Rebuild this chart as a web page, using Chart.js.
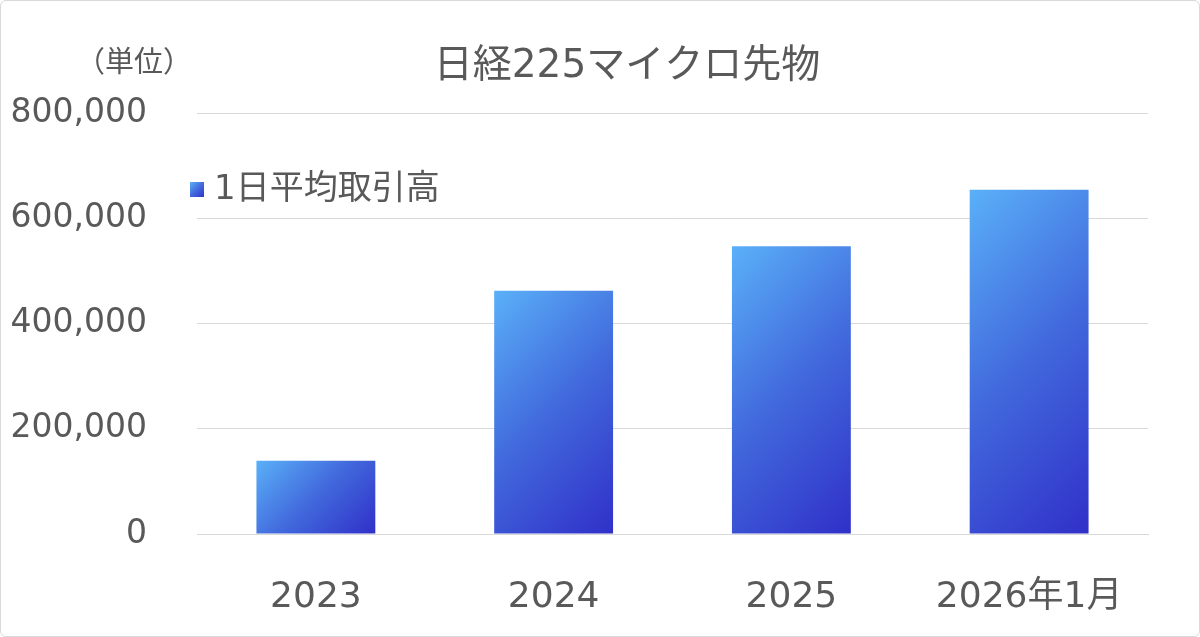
<!DOCTYPE html>
<html><head><meta charset="utf-8">
<script src="https://cdn.jsdelivr.net/npm/chart.js@4"></script>
<style>
html,body{margin:0;padding:0;background:#fff;}
#wrap{position:absolute;left:0;top:0;width:1198px;height:635px;border:1px solid #d9d9d9;border-radius:6px;}
canvas{position:absolute;left:0;top:0;}
</style></head><body>
<div id="wrap"></div>
<canvas id="c" width="1200" height="637"></canvas>
<script>
const categories = ["2023", "2024", "2025", "2026年1月"];
const seriesName = "1日平均取引高";
const values = [139000, 462000, 547000, 654000];
const chartTitle = "日経225マイクロ先物";
const unitLabel = "（単位）";
const FONT = "Verdana, 'DejaVu Sans', 'Noto Sans CJK JP', sans-serif";

function barGrad(ctx, x0, y0, x1, y1){
  const d = ((x1 - x0) + (y1 - y0)) / 2;
  const g = ctx.createLinearGradient(x0, y0, x0 + d, y0 + d);
  g.addColorStop(0, "#5ab0f8");
  g.addColorStop(0.5, "#4168dc");
  g.addColorStop(1, "#3030c8");
  return g;
}

const extras = {
  id: "extras",
  afterDraw(chart){
    const c = chart.ctx;
    c.save();
    c.fillStyle = "#595959";
    c.textBaseline = "middle";
    c.textAlign = "center";
    c.font = "39px " + FONT;
    c.fillText(chartTitle, 627, 67);
    c.font = "29px " + FONT;
    c.fillText(unitLabel, 134, 64);
    c.fillStyle = barGrad(c, 190, 182, 204, 198);
    c.fillRect(190, 182, 14, 15);
    c.fillStyle = "#595959";
    c.textAlign = "left";
    c.font = "34px " + FONT;
    c.fillText(seriesName, 214, 190);
    c.restore();
  }
};

new Chart(document.getElementById("c"), {
  type: "bar",
  data: {
    labels: categories,
    datasets: [{
      label: seriesName,
      data: values,
      barPercentage: 0.5,
      categoryPercentage: 1,
      borderWidth: 0,
      backgroundColor: (ctx) => {
        const ch = ctx.chart;
        if (!ch.chartArea || ctx.dataIndex === undefined) return "#4168dc";
        const xs = ch.scales.x, ys = ch.scales.y;
        const cx = xs.getPixelForValue(ctx.dataIndex);
        const w = (xs.width / categories.length) * 0.5;
        const top = ys.getPixelForValue(values[ctx.dataIndex]);
        const bot = ys.getPixelForValue(0);
        return barGrad(ch.ctx, cx - w/2, top, cx + w/2, bot);
      }
    }]
  },
  options: {
    responsive: false,
    animation: false,
    devicePixelRatio: 1,
    layout: { padding: { top: 113, right: 52, left: 0, bottom: 0 } },
    plugins: { legend: { display: false }, title: { display: false }, tooltip: { enabled: false } },
    scales: {
      x: {
        grid: { display: false },
        border: { display: true, color: "#d9d9d9", width: 1 },
        ticks: { color: "#595959", font: { family: FONT, size: 36 }, padding: 34, maxRotation: 0 },
        afterFit: (s) => { s.height = 103; }
      },
      y: {
        min: 0, max: 800000,
        ticks: { stepSize: 200000, color: "#595959", font: { family: FONT, size: 33 }, padding: 50,
          callback: (v) => v.toLocaleString("en-US") },
        grid: { color: "#d9d9d9", drawTicks: false },
        border: { display: false },
        afterFit: (s) => { s.width = 197; }
      }
    }
  },
  plugins: [extras]
});
</script>
</body></html>
